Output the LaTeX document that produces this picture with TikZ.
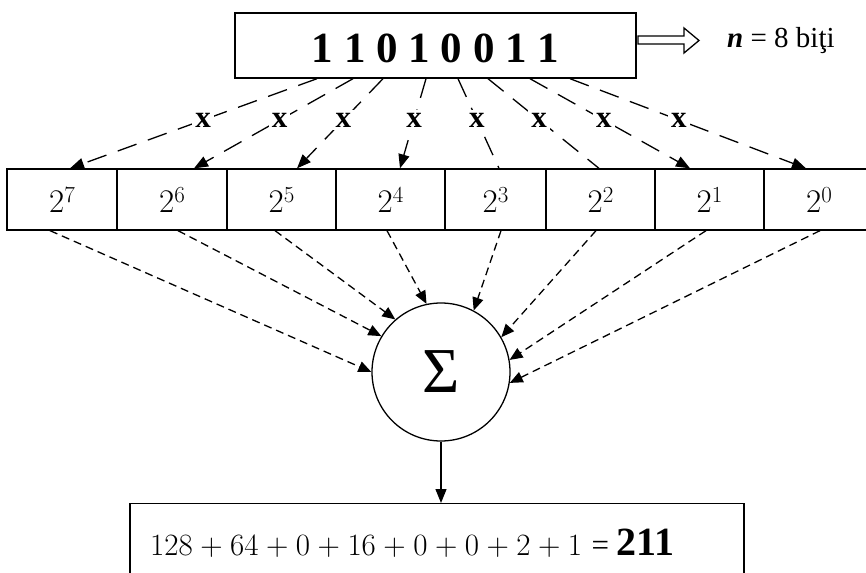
\documentclass[tikz,border=0pt]{standalone}
\usepackage{fontspec}
\newfontfamily\tnr{Liberation Serif}
\usetikzlibrary{arrows.meta,calc}
\newcommand\pw[1]{2\raisebox{10pt}{\fontsize{23}{23}\selectfont #1}}
\newcommand\pl{\hspace{7.5pt}+\hspace{7.5pt}}
\begin{document}
\begin{tikzpicture}[x=1pt,y=-1pt,
  box/.style={draw, line width=1.4pt, inner sep=0pt},
  cell/.style={draw, line width=1.3pt, minimum height=61pt, inner sep=0pt, text height=25pt, text depth=0pt, font=\fontsize{33}{38}\selectfont},
  conn/.style={line width=1.3pt, dash pattern=on 20pt off 12pt},
  head/.style={-{Triangle[length=14pt,width=11pt]}},
  nohead/.style={},
  dsh/.style={line width=1.3pt, dash pattern=on 8pt off 5pt, -{Triangle[length=13pt,width=11pt]}},
  mul/.style={fill=white, inner sep=3pt, font=\tnr\bfseries\fontsize{31}{32}\selectfont}
]
\useasboundingbox (0,0) rectangle (866,572);
\clip (0,0) rectangle (866,572);
\fill[white] (0,0) rectangle (866,572);

% top register
\node[box, minimum width=401pt, minimum height=65pt] (top) at (435.5,45.5) {};
\node[anchor=base, inner sep=0pt, font=\tnr\bfseries\fontsize{43}{48}\selectfont] (bits) at (435.5,63) {1 1 0 1 0 0 1 1};

% hollow arrow and n = 8 biti
\draw[line width=1.3pt, fill=white] (638,36) -- (684,36) -- (684,28) -- (699,40.5) -- (684,53) -- (684,44) -- (638,44) -- cycle;
\node[anchor=base west, inner sep=0pt, font=\tnr\fontsize{29}{32}\selectfont] (nb) at (727,48) {\textbf{\textit{n}} = 8 biţi};

% cells
\foreach \n/\cx/\w in {7/62/110, 6/172/110, 5/281.5/109, 4/390.5/109, 3/495.5/101, 2/600.5/109, 1/709.5/109, 0/819/110}
  \node[cell, minimum width=\w pt] (c\n) at (\cx,199.5) {\pw{\n}};

% connectors from register to cells
\foreach \n/\s/\t/\tip in {7/-118.5/8/head, 6/-82.5/22/head, 5/-52.5/15.5/head, 4/-9.5/9.5/head, 3/22.5/3.5/nohead, 2/52.5/-1.5/nohead, 1/94.5/-19.5/head, 0/134.5/-13/head}
  \draw[conn, \tip] ([xshift=\s]top.south) -- node[mul, pos=0.4615] (x\n) {x} ([xshift=\t]c\n.north);

% summation node
\node[circle, draw, line width=1.3pt, minimum size=138pt, inner sep=0pt, font=\tnr\fontsize{64}{64}\selectfont] (sum) at (441,372) {Σ};

\foreach \n/\s/\a in {7/-12/180, 6/6/149, 5/-6.5/131, 4/-3.5/102, 3/5.5/62, 2/-4.5/30, 1/-3.5/10.5, 0/1/351}
  \draw[dsh] ([xshift=\s]c\n.south) -- (sum.\a);

% result box
\node[box, minimum width=614pt, minimum height=100pt, anchor=north] (bot) at (437,503) {};
\draw[line width=1.3pt, head] (sum.south) -- (sum.south |- bot.north);
\node[anchor=base west, inner sep=0pt, font=\fontsize{31}{36}\selectfont] (res) at (150,555) {128\pl 64\pl 0\pl 16\pl 0\pl 0\pl 2\pl 1 {\tnr = {\bfseries\fontsize{40}{40}\selectfont 211}}};
\end{tikzpicture}
\end{document}
